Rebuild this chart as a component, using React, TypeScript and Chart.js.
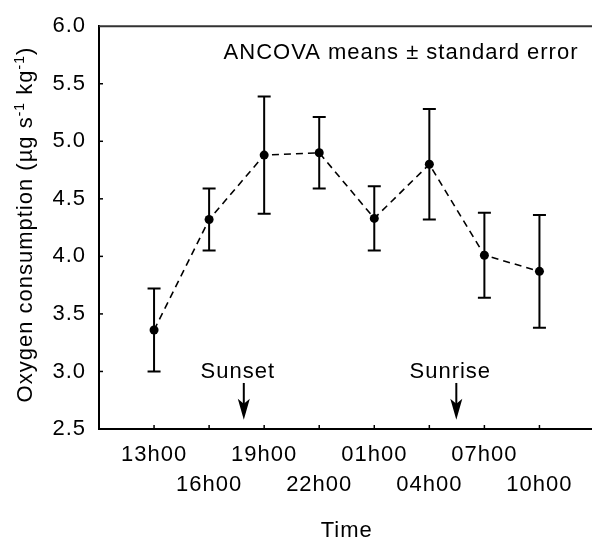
import React, { useEffect, useRef } from 'react';
import { Chart, registerables } from 'chart.js';

Chart.register(...registerables);

// ---- data ----
const timeLabels = ['13h00', '16h00', '19h00', '22h00', '01h00', '04h00', '07h00', '10h00'];
const meanValues = [3.36, 4.32, 4.88, 4.90, 4.33, 4.80, 4.01, 3.87];
const stdErrors = [0.36, 0.27, 0.51, 0.31, 0.28, 0.48, 0.37, 0.49];
const eventLabels = ['Sunset', 'Sunrise'];
const eventTimes = [1.63, 5.49]; // in 3-hour steps after 13h00
const yMin = 2.5;
const yMax = 6.0;
const yStep = 0.5;
const xMin = -1;
const xMax = 8;
const annotationText = 'ANCOVA means \u00B1 standard error';
const xTitle = 'Time';
const yTitleParts = [
  { text: 'Oxygen consumption (\u00B5g s', sup: false },
  { text: '-1', sup: true },
  { text: ' kg', sup: false },
  { text: '-1', sup: true },
  { text: ')', sup: false },
];

const FONT = '"Liberation Sans", Arial, sans-serif';
const FS = 22;

const customPlugin = {
  id: 'custom',
  beforeLayout(chart: any) {
    chart.ctx.letterSpacing = '1px';
  },
  beforeDraw(chart: any) {
    chart.ctx.letterSpacing = '1px';
  },
  beforeDatasetsDraw(chart: any) {
    const ctx = chart.ctx;
    const xs = chart.scales.x;
    const ys = chart.scales.y;
    const area = chart.chartArea;
    ctx.save();
    // top frame line
    ctx.strokeStyle = '#333';
    ctx.lineWidth = 2;
    ctx.beginPath();
    ctx.moveTo(area.left, area.top);
    ctx.lineTo(area.right, area.top);
    ctx.stroke();
    // inward ticks
    ctx.strokeStyle = '#000';
    ctx.lineWidth = 1.5;
    for (let i = 0; i < timeLabels.length; i++) {
      const px = xs.getPixelForValue(i);
      ctx.beginPath();
      ctx.moveTo(px, area.bottom);
      ctx.lineTo(px, area.bottom - 4);
      ctx.stroke();
    }
    for (let v = yMin + yStep; v < yMax - 1e-9; v += yStep) {
      const py = ys.getPixelForValue(v);
      ctx.beginPath();
      ctx.moveTo(area.left, py);
      ctx.lineTo(area.left + 4, py);
      ctx.stroke();
    }
    // error bars
    ctx.lineWidth = 2;
    for (let i = 0; i < meanValues.length; i++) {
      const px = xs.getPixelForValue(i);
      const top = ys.getPixelForValue(meanValues[i] + stdErrors[i]);
      const bot = ys.getPixelForValue(meanValues[i] - stdErrors[i]);
      ctx.beginPath();
      ctx.moveTo(px, top);
      ctx.lineTo(px, bot);
      ctx.moveTo(px - 6.5, top);
      ctx.lineTo(px + 6.5, top);
      ctx.moveTo(px - 6.5, bot);
      ctx.lineTo(px + 6.5, bot);
      ctx.stroke();
    }
    ctx.restore();
  },
  afterDraw(chart: any) {
    const ctx = chart.ctx;
    const xs = chart.scales.x;
    const ys = chart.scales.y;
    const area = chart.chartArea;
    ctx.save();
    ctx.letterSpacing = '1px';
    ctx.fillStyle = '#000';
    ctx.strokeStyle = '#000';
    // event arrows + labels
    ctx.font = `${FS}px ${FONT}`;
    ctx.textAlign = 'center';
    ctx.textBaseline = 'middle';
    for (let i = 0; i < eventLabels.length; i++) {
      const px = xs.getPixelForValue(eventTimes[i]);
      const tip = ys.getPixelForValue(2.58);
      const shaftTop = ys.getPixelForValue(2.9);
      ctx.lineWidth = 2;
      ctx.beginPath();
      ctx.moveTo(px, shaftTop);
      ctx.lineTo(px, tip - 10);
      ctx.stroke();
      ctx.beginPath();
      ctx.moveTo(px - 6, tip - 21);
      ctx.lineTo(px, tip - 16);
      ctx.lineTo(px + 6, tip - 21);
      ctx.lineTo(px, tip);
      ctx.closePath();
      ctx.fill();
      ctx.fillText(eventLabels[i], px - 6, ys.getPixelForValue(3.0));
    }
    // annotation
    ctx.textAlign = 'right';
    ctx.fillText(annotationText, area.right - 16, area.top + 27);
    // y title with superscripts
    const fontMain = `${FS}px ${FONT}`;
    const fontSup = `${Math.round(FS * 0.62)}px ${FONT}`;
    let total = 0;
    const widths = yTitleParts.map((p) => {
      ctx.font = p.sup ? fontSup : fontMain;
      const w = ctx.measureText(p.text).width;
      total += w;
      return w;
    });
    const cx = 23.5;
    const cy = (area.top + area.bottom) / 2 - 3;
    ctx.translate(cx, cy);
    ctx.rotate(-Math.PI / 2);
    ctx.textAlign = 'left';
    ctx.textBaseline = 'alphabetic';
    let x = -total / 2;
    const base = 8;
    yTitleParts.forEach((p, i) => {
      ctx.font = p.sup ? fontSup : fontMain;
      ctx.fillText(p.text, x, p.sup ? base - 8 : base);
      x += widths[i];
    });
    ctx.restore();
  },
};

export default function App() {
  const ref = useRef<HTMLCanvasElement | null>(null);
  useEffect(() => {
    if (!ref.current) return;
    const chart = new Chart(ref.current, {
      type: 'line',
      data: {
        datasets: [
          {
            data: meanValues.map((v, i) => ({ x: i, y: v })),
            borderColor: '#000',
            borderWidth: 1.6,
            borderDash: [7, 5],
            pointRadius: 4.5,
            pointBackgroundColor: '#000',
            pointBorderWidth: 0,
            tension: 0,
            fill: false,
          },
        ],
      },
      options: {
        responsive: false,
        animation: false,
        devicePixelRatio: 1,
        layout: { padding: { top: 21, left: 0, right: 0, bottom: 0 } },
        plugins: { legend: { display: false }, tooltip: { enabled: false } },
        scales: {
          x: {
            type: 'linear',
            min: xMin,
            max: xMax,
            afterFit(scale: any) {
              scale.height = 115;
            },
            grid: { display: false, drawTicks: false },
            border: { display: true, color: '#000', width: 2 },
            ticks: {
              stepSize: 1,
              padding: 11,
              color: '#000',
              maxRotation: 0,
              autoSkip: false,
              font: { family: FONT, size: FS, lineHeight: '30px' },
              callback: (value: any) => {
                const i = Math.round(Number(value));
                if (i < 0 || i >= timeLabels.length) return null;
                return i % 2 === 0 ? [timeLabels[i], ''] : ['', timeLabels[i]];
              },
            },
            title: {
              display: true,
              text: xTitle,
              color: '#000',
              padding: 0,
              font: { family: FONT, size: FS },
            },
          },
          y: {
            type: 'linear',
            min: yMin,
            max: yMax,
            afterFit(scale: any) {
              scale.width = 99;
            },
            grid: { display: false, drawTicks: false },
            border: { display: true, color: '#000', width: 2 },
            ticks: {
              stepSize: yStep,
              padding: 13,
              color: '#000',
              font: { family: FONT, size: FS },
              callback: (value: any) => Number(value).toFixed(1),
            },
          },
        },
      },
      plugins: [customPlugin],
    });
    return () => chart.destroy();
  }, []);
  return (
    <div
      style={{
        position: 'fixed',
        left: 0,
        top: 0,
        width: 592,
        height: 544,
        overflow: 'hidden',
        background: '#fff',
      }}
    >
      <canvas ref={ref} width={599} height={544} style={{ display: 'block' }} />
    </div>
  );
}
